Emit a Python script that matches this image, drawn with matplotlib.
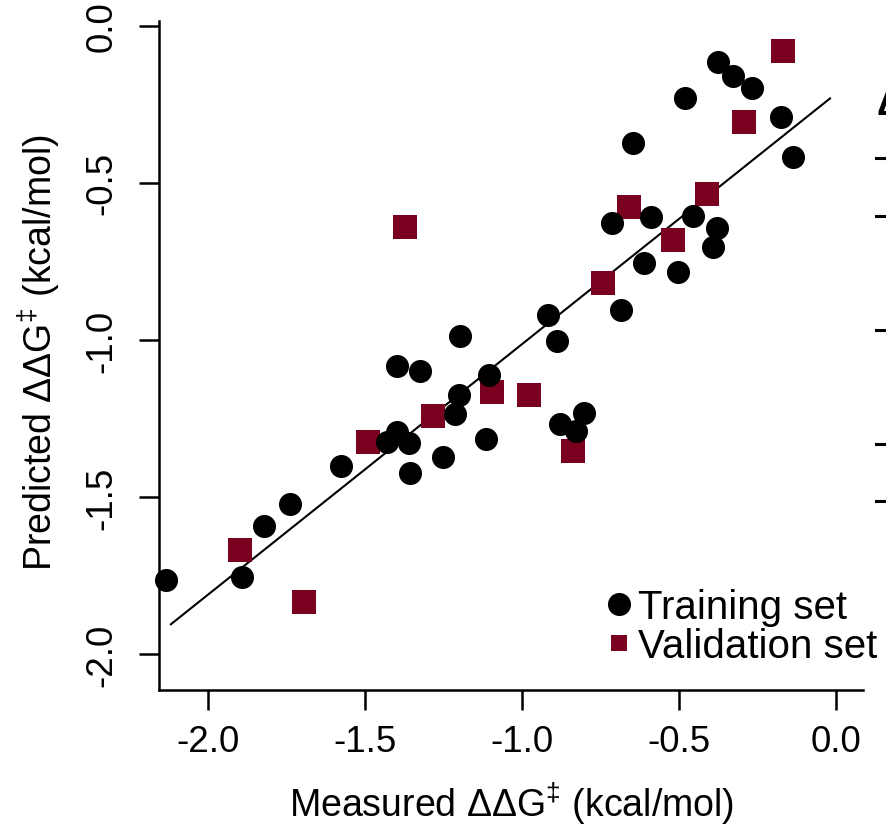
import matplotlib
matplotlib.use("Agg")
import matplotlib.pyplot as plt
from matplotlib.lines import Line2D
import numpy as np

plt.rcParams["font.family"] = ["Liberation Sans", "DejaVu Sans"]
plt.rcParams["mathtext.fontset"] = "custom"
plt.rcParams["mathtext.rm"] = "Liberation Sans"
plt.rcParams["mathtext.it"] = "Liberation Sans:italic"
plt.rcParams["mathtext.default"] = "regular"

# Training set: measured vs predicted ΔΔG‡ (kcal/mol)
train_measured = [-1.198, -0.375, -0.329, -0.267, -0.480, -0.175, -0.138, -0.646,
                  -0.714, -0.589, -0.455, -0.380, -0.391, -0.612, -0.504, -0.686,
                  -0.917, -0.890, -1.398, -1.325, -1.105, -1.201, -1.214, -1.115,
                  -1.399, -1.431, -1.359, -1.253, -1.357, -1.578, -1.739, -1.821,
                  -1.891, -2.135, -0.803, -0.879, -0.828]
train_predicted = [-0.988, -0.114, -0.159, -0.199, -0.229, -0.291, -0.419, -0.373,
                   -0.628, -0.609, -0.606, -0.644, -0.705, -0.756, -0.783, -0.904,
                   -0.920, -1.002, -1.084, -1.100, -1.110, -1.175, -1.235, -1.315,
                   -1.294, -1.326, -1.329, -1.373, -1.423, -1.402, -1.522, -1.591,
                   -1.755, -1.763, -1.232, -1.267, -1.289]

# Validation set
valid_measured = [-1.373, -0.168, -0.293, -0.412, -0.658, -0.518, -0.743,
                  -1.097, -0.977, -1.285, -1.490, -1.899, -1.695, -0.837]
valid_predicted = [-0.639, -0.081, -0.307, -0.535, -0.578, -0.681, -0.819,
                   -1.166, -1.174, -1.243, -1.324, -1.668, -1.835, -1.352]

# Regression line
fit_slope = 0.797
fit_intercept = -0.216
fit_range = [-2.119, -0.019]

tick_values = [-2.0, -1.5, -1.0, -0.5, 0.0]
tick_labels = ["-2.0", "-1.5", "-1.0", "-0.5", "0.0"]

series_labels = ["Training set", "Validation set"]

RED = "#7a0020"
W, H = 886, 828

fig = plt.figure(figsize=(W / 100, H / 100), dpi=100)
ax = fig.add_axes([159.3 / W, 1 - 690.7 / H, 704 / W, 669 / H])

fx = np.array(fit_range)
ax.plot(fx, fit_slope * fx + fit_intercept, color="black", lw=1.5, zorder=1)
ax.plot(valid_measured, valid_predicted, ls="none", marker="s", ms=16.6, mew=0,
        color=RED, zorder=2, clip_on=False)
ax.plot(train_measured, train_predicted, ls="none", marker="o", ms=16.6, mew=0,
        color="black", zorder=3, clip_on=False)

ax.set_xlim(-2.1558, 0.087)
ax.set_ylim(-2.113, 0.0162)

for s in ["top", "right"]:
    ax.spines[s].set_visible(False)
for s in ["left", "bottom"]:
    ax.spines[s].set_linewidth(1.8)

ax.set_xticks(tick_values, tick_labels)
ax.set_yticks(tick_values, tick_labels)
ax.tick_params(direction="out", length=14.4, width=1.8, labelsize=26.5)
ax.tick_params(axis="x", pad=10.5)
ax.tick_params(axis="y", pad=14, labelrotation=90)
for lbl in ax.get_yticklabels():
    lbl.set_va("center")

ax.set_xlabel("Measured ΔΔG$^{‡}$ (kcal/mol)", fontsize=27)
ax.xaxis.set_label_coords(0.5, (690.7 - 781) / 669)
ax.set_ylabel("Predicted ΔΔG$^{‡}$ (kcal/mol)", fontsize=27)
ax.yaxis.set_label_coords((62 - 159.3) / 704, 0.505)

handles = [
    Line2D([], [], ls="none", marker="o", ms=16.6, mew=0, color="black"),
    Line2D([], [], ls="none", marker="s", ms=11, mew=0, color=RED),
]
fig.legend(handles, series_labels, loc="upper left",
           bbox_to_anchor=(608 / W, 1 - 589 / H), frameon=False, fontsize=29,
           handlelength=0.55, handletextpad=0.2, labelspacing=0.03,
           borderpad=0, borderaxespad=0, handleheight=0.7)

# Edge of the neighbouring panel
fig.text(876 / W, 1 - 115 / H, "Δ", fontsize=26, fontweight="bold",
         va="baseline", ha="left")
for yp in [159.3, 216.7, 330.7, 445, 501.7]:
    fig.add_artist(Line2D([876 / W, 1.0], [1 - yp / H] * 2, color="black",
                          lw=2.2, transform=fig.transFigure))

fig.savefig("out.png", dpi=100)
